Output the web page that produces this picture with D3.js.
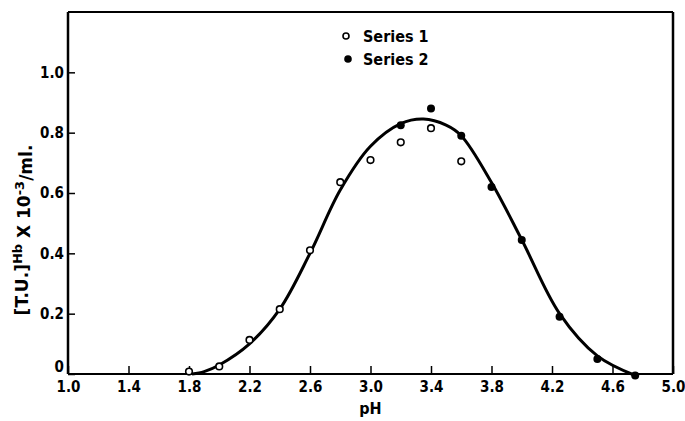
<!DOCTYPE html>
<html>
<head>
<meta charset="utf-8">
<script src="https://cdn.jsdelivr.net/npm/d3@7"></script>
<style>
  body { margin: 0; background: #fff; }
  svg text { font-family: "DejaVu Sans Condensed", "Liberation Sans Narrow", "Liberation Sans", sans-serif; font-weight: bold; fill: #000; }
  svg text.ytitle { font-family: "DejaVu Sans", "Liberation Sans", sans-serif; }
</style>
</head>
<body>
<div id="chart"></div>
<script>
// values
const series1PH = [1.8, 2.0, 2.2, 2.4, 2.6, 2.8, 3.0, 3.2, 3.4, 3.6];
const series1Val = [0.008, 0.025, 0.113, 0.215, 0.41, 0.636, 0.709, 0.768, 0.815, 0.705];

const series2PH = [3.2, 3.4, 3.6, 3.8, 4.0, 4.25, 4.5, 4.75];
const series2Val = [0.825, 0.88, 0.79, 0.62, 0.444, 0.19, 0.05, -0.005];

// fitted curve
const curvePH = [1.82, 1.9, 2.0, 2.2, 2.4, 2.6, 2.8, 3.0, 3.2, 3.35, 3.5, 3.6, 3.8, 4.0, 4.25, 4.5, 4.75];
const curveVal = [0.0, 0.008, 0.03, 0.1, 0.215, 0.4, 0.61, 0.755, 0.83, 0.845, 0.825, 0.79, 0.635, 0.445, 0.2, 0.06, -0.005];

const xTicks = [1.0, 1.4, 1.8, 2.2, 2.6, 3.0, 3.4, 3.8, 4.2, 4.6, 5.0];
const yTicks = [0, 0.2, 0.4, 0.6, 0.8, 1.0];
const legendLabels = ["Series 1", "Series 2"];

const svgWidth = 685;
const svgHeight = 421;
const margin = { top: 12, right: 12, bottom: 47, left: 68 };
const width = svgWidth - margin.left - margin.right;
const height = svgHeight - margin.top - margin.bottom;

const svg = d3.select("#chart").append("svg")
    .attr("width", svgWidth)
    .attr("height", svgHeight);

const g = svg.append("g")
    .attr("transform", `translate(${margin.left}, ${margin.top})`);

const x = d3.scaleLinear().domain([1.0, 5.0]).range([0, width]);
const y = d3.scaleLinear().domain([0, 1.2]).range([height, 0]);

// X axis
const xAxis = g.append("g")
    .attr("transform", `translate(0, ${height})`)
    .call(d3.axisBottom(x)
        .tickValues(xTicks)
        .tickSize(-8)
        .tickPadding(7)
        .tickFormat(d3.format(".1f")));
xAxis.select(".domain").remove();
xAxis.selectAll(".tick line").attr("stroke", "#000").attr("stroke-width", 1.5);
xAxis.selectAll(".tick text").style("font-size", "15px");

// Y axis
const yAxis = g.append("g")
    .call(d3.axisLeft(y)
        .tickValues(yTicks)
        .tickSize(-7)
        .tickPadding(4)
        .tickFormat(d => d === 0 ? "0" : d3.format(".1f")(d)));
yAxis.select(".domain").remove();
yAxis.selectAll(".tick line").attr("stroke", "#000").attr("stroke-width", 1.5);
yAxis.selectAll(".tick text").style("font-size", "15px");
yAxis.selectAll(".tick text").filter(d => d === 0).attr("dy", "-0.15em");

// frame
g.append("line").attr("x1", 0).attr("x2", width).attr("y1", height).attr("y2", height)
    .attr("stroke", "#000").attr("stroke-width", 2);
g.append("line").attr("x1", 0).attr("x2", width).attr("y1", 0).attr("y2", 0)
    .attr("stroke", "#000").attr("stroke-width", 2);
g.append("line").attr("x1", 0).attr("x2", 0).attr("y1", 0).attr("y2", height)
    .attr("stroke", "#000").attr("stroke-width", 2.5);
g.append("line").attr("x1", width).attr("x2", width).attr("y1", 0).attr("y2", height)
    .attr("stroke", "#000").attr("stroke-width", 2.5);

// fitted curve
const curveData = curvePH.map((p, i) => ({ ph: p, v: curveVal[i] }));
g.append("path")
    .datum(curveData)
    .attr("fill", "none")
    .attr("stroke", "#000")
    .attr("stroke-width", 3)
    .attr("d", d3.line()
        .x(d => x(d.ph))
        .y(d => y(d.v))
        .curve(d3.curveCatmullRom.alpha(0.5)));

// Series 1 - open circles
g.selectAll(".s1")
    .data(series1PH.map((p, i) => ({ ph: p, v: series1Val[i] })))
    .enter().append("circle")
    .attr("class", "s1")
    .attr("cx", d => x(d.ph))
    .attr("cy", d => y(d.v))
    .attr("r", 3.3)
    .attr("fill", "#fff")
    .attr("stroke", "#000")
    .attr("stroke-width", 1.6);

// Series 2 - filled circles
g.selectAll(".s2")
    .data(series2PH.map((p, i) => ({ ph: p, v: series2Val[i] })))
    .enter().append("circle")
    .attr("class", "s2")
    .attr("cx", d => x(d.ph))
    .attr("cy", d => y(d.v))
    .attr("r", 4)
    .attr("fill", "#000");

// axis titles
svg.append("text")
    .attr("x", margin.left + x(3.0))
    .attr("y", 414)
    .attr("text-anchor", "middle")
    .style("font-size", "16px")
    .text("pH");

const yTitle = svg.append("text")
    .attr("class", "ytitle")
    .attr("transform", "translate(28, 230) rotate(-90)")
    .attr("text-anchor", "middle")
    .style("font-size", "17px");
yTitle.append("tspan").text("[T.U.]");
yTitle.append("tspan").attr("dy", "-0.45em").style("font-size", "13px").text("Hb");
yTitle.append("tspan").attr("dy", "0.45em").text(" X 10");
yTitle.append("tspan").attr("dy", "-0.45em").style("font-size", "13px").text("-3");
yTitle.append("tspan").attr("dy", "0.45em").text("/ml.");

// legend
const legend = svg.append("g").attr("transform", "translate(346, 36)");
legendLabels.forEach((label, i) => {
    const row = legend.append("g").attr("transform", `translate(0, ${i * 23})`);
    if (i === 0) {
        row.append("circle").attr("r", 3).attr("fill", "#fff")
            .attr("stroke", "#000").attr("stroke-width", 1.6);
    } else {
        row.append("circle").attr("cx", 2).attr("r", 3.8).attr("fill", "#000");
    }
    row.append("text")
        .attr("x", 17)
        .attr("y", 6)
        .style("font-size", "16px")
        .text(label);
});
</script>
</body>
</html>
